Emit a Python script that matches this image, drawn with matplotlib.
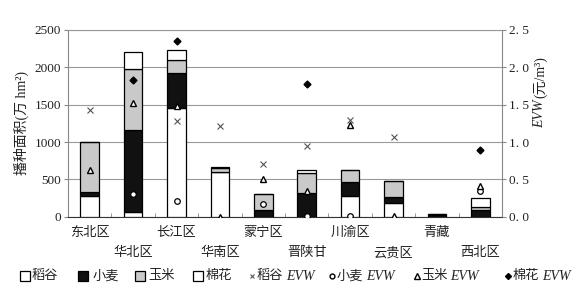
import numpy as np
import matplotlib
matplotlib.use("Agg")
import matplotlib.pyplot as plt
from matplotlib.lines import Line2D
from matplotlib.patches import Rectangle
import matplotlib.transforms as mtransforms

plt.rcParams['font.family'] = ['Liberation Serif', 'Noto Sans CJK SC', 'DejaVu Sans']

regions = ['东北区', '华北区', '长江区', '华南区', '蒙宁区', '晋陕甘', '川渝区', '云贵区', '青藏', '西北区']
rice = [280, 65, 1460, 600, 0, 0, 277, 180, 0, 0]
wheat = [55, 1100, 460, 0, 90, 320, 183, 90, 20, 95]
corn = [665, 810, 180, 50, 210, 270, 165, 210, 10, 30]
cotton = [0, 230, 130, 15, 0, 30, 5, 0, 0, 130]

nan = np.nan
rice_evw = [1.43, nan, 1.28, 1.21, 0.70, 0.95, 1.29, 1.07, nan, nan]
wheat_evw = [nan, 0.30, 0.21, nan, 0.17, 0.01, 0.01, nan, nan, 0.35]
corn_evw = [0.63, 1.52, 1.48, 0.0, 0.50, 0.34, 1.23, 0.01, nan, 0.41]
cotton_evw = [nan, 1.83, 2.35, nan, nan, 1.78, nan, nan, nan, 0.89]

left_ticks = [0, 500, 1000, 1500, 2000, 2500]
right_ticks = [0.0, 0.5, 1.0, 1.5, 2.0, 2.5]
right_labels = ['0. 0', '0. 5', '1. 0', '1. 5', '2. 0', '2. 5']
legend_names = ['稻谷', '小麦', '玉米', '棉花', '稻谷', '小麦', '玉米', '棉花']

W, H = 588, 292
fig = plt.figure(figsize=(W/100, H/100), dpi=100)
ax = fig.add_axes([68/W, 1-216.7/H, (502-68)/W, (216.7-30)/H])
x = np.arange(len(regions))
w = 0.43
rice_a, wheat_a, corn_a, cotton_a = map(np.array, (rice, wheat, corn, cotton))
bk = dict(edgecolor='black', linewidth=0.9, width=w, zorder=3)
ax.bar(x, rice_a, color='white', **bk)
ax.bar(x, wheat_a, bottom=rice_a, color='#111111', **bk)
ax.bar(x, corn_a, bottom=rice_a+wheat_a, color='#c9c9c9', **bk)
ax.bar(x, cotton_a, bottom=rice_a+wheat_a+corn_a, color='white', **bk)

ax.set_xlim(-0.5, len(regions)-0.5)
ax.set_ylim(0, 2500)
ax.set_yticks(left_ticks)
ax.set_yticklabels([str(t) for t in left_ticks], fontsize=9.5, color='#222222')
ax.yaxis.grid(True, color='#999999', linewidth=0.8, zorder=0)
ax.set_axisbelow(True)
ax.set_xticks([])
ax.set_xticks(np.arange(0.5, len(regions)-0.5, 1), minor=True)
ax.tick_params(axis='x', which='minor', direction='in', length=3, color='#888888')
ax.tick_params(axis='y', length=3, color='#888888', pad=2)
ax.spines['top'].set_color('#999999')
ax.spines['top'].set_linewidth(0.8)
ax.spines['left'].set_color('#888888')
ax.spines['right'].set_color('#888888')
ax.spines['bottom'].set_color('#333333')
ax.set_ylabel('播种面积(万 hm²)', fontsize=10, labelpad=4, color='#222222')

trans = mtransforms.blended_transform_factory(ax.transData, fig.transFigure)
for i, r in enumerate(regions):
    yoff = 233 if i % 2 == 0 else 253
    ax.text(i, 1 - yoff/H, r, transform=trans,
            ha='center', va='center', fontsize=9.5, fontweight='medium', color='#222222')

ax2 = ax.twinx()
ax2.set_ylim(0, 2.5)
ax2.set_yticks(right_ticks)
ax2.set_yticklabels(right_labels, fontsize=9.5, color='#222222')
ax2.tick_params(axis='y', length=3, color='#888888', pad=2)
for s in ax2.spines.values():
    s.set_visible(False)

ax2.plot(x, rice_evw, linestyle='none', marker='x', color='#555555', markersize=4, markeredgewidth=0.8, zorder=5)
ax2.plot(x, wheat_evw, linestyle='none', marker='o', markerfacecolor='white', markeredgecolor='black', markersize=4, markeredgewidth=0.9, zorder=5)
ax2.plot(x, corn_evw, linestyle='none', marker='^', markerfacecolor='white', markeredgecolor='black', markersize=5, markeredgewidth=1.0, zorder=5)
ax2.plot(x, cotton_evw, linestyle='none', marker='D', color='black', markersize=3.5, zorder=5)

renderer = fig.canvas.get_renderer()

# right axis label: italic EVW + (元/m³)
t1 = fig.text(540/W, 1-128/H, 'EVW', rotation=90, ha='center', va='bottom',
              fontsize=10, style='italic', color='#222222')
bb = t1.get_window_extent(renderer)
fig.text(540/W, (bb.y1 + 1)/H, '(元/m³)', rotation=90, ha='center', va='bottom',
         fontsize=10, color='#222222')

# manual legend
handle_x = [25, 83, 140, 198, 252, 332, 417, 508]
text_x = [32, 93, 148, 206, 257, 337, 421, 513]
ly = 1 - 276/H
fills = ['white', '#111111', '#c9c9c9', 'white']
for i in range(4):
    fig.add_artist(Rectangle(((handle_x[i]-5)/W, ly - 5/H), 10/W, 10/H, facecolor=fills[i],
                             edgecolor='black', linewidth=0.9, transform=fig.transFigure))
mk = [dict(marker='x', color='#555555', markersize=3.5, markeredgewidth=0.8),
      dict(marker='o', markerfacecolor='white', markeredgecolor='black', markersize=3.5),
      dict(marker='^', markerfacecolor='white', markeredgecolor='black', markersize=4),
      dict(marker='D', color='black', markersize=3)]
for j in range(4):
    i = 4 + j
    fig.add_artist(Line2D([handle_x[i]/W], [ly], linestyle='none', transform=fig.transFigure, **mk[j]))
for i, name in enumerate(legend_names):
    t = fig.text(text_x[i]/W, ly, name, ha='left', va='center', fontsize=9.5, color='#222222')
    if i >= 4:
        bb = t.get_window_extent(renderer)
        fig.text((bb.x1 + 3)/W, ly, 'EVW', ha='left', va='center', fontsize=10,
                 style='italic', color='#222222')

fig.savefig('out.png', dpi=100)
